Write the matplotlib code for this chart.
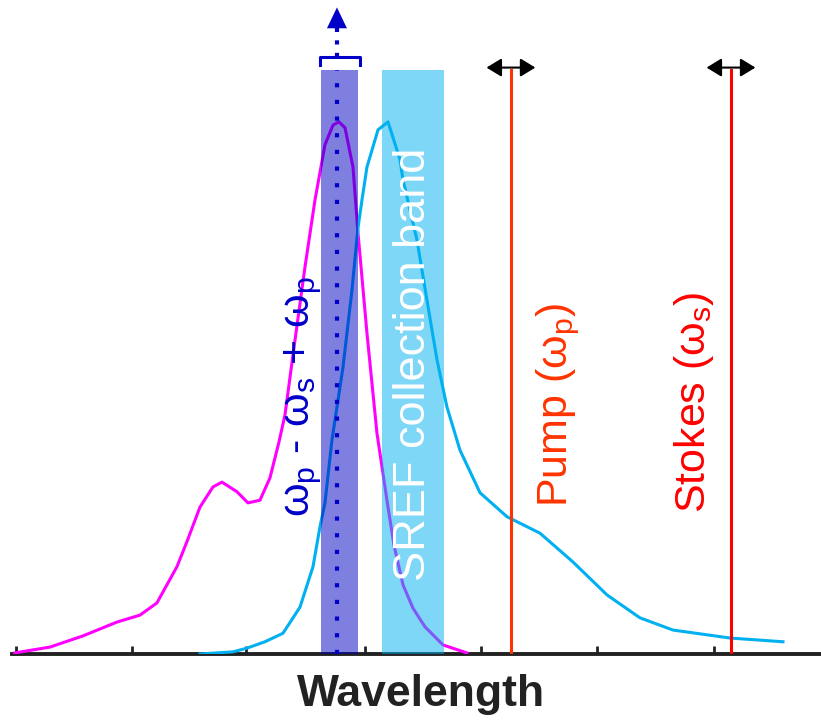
import matplotlib.pyplot as plt

plt.rcParams['font.family'] = ['Liberation Sans', 'DejaVu Sans']
plt.rcParams['mathtext.fontset'] = 'custom'
plt.rcParams['mathtext.rm'] = 'Liberation Sans'
plt.rcParams['mathtext.it'] = 'Liberation Sans'

# Data (arbitrary units, tick spacing = 1, intensity normalised to peak)
ticks = [0, 1, 1.98, 3, 4, 5, 6]

mag_x = [-0.01, 0.292, 0.576, 0.868, 1.066, 1.212, 1.384, 1.470, 1.582, 1.694,
         1.771, 1.900, 1.995, 2.098, 2.184, 2.261, 2.313, 2.382, 2.485, 2.571,
         2.657, 2.726, 2.777, 2.829, 2.898, 2.941, 3.018, 3.104, 3.190, 3.250,
         3.328, 3.414, 3.517, 3.672, 3.878]
mag_y = [0.002, 0.013, 0.034, 0.060, 0.073, 0.096, 0.164, 0.211, 0.276, 0.314,
         0.323, 0.305, 0.284, 0.289, 0.331, 0.398, 0.449, 0.562, 0.727, 0.853,
         0.957, 0.994, 1.0, 0.989, 0.915, 0.791, 0.603, 0.415, 0.289, 0.205,
         0.130, 0.086, 0.051, 0.017, 0.002]

cyan_x = [1.582, 1.866, 1.986, 2.141, 2.296, 2.442, 2.554, 2.614, 2.657, 2.717,
          2.812, 2.889, 2.941, 2.975, 3.018, 3.113, 3.199, 3.302, 3.328, 3.448,
          3.534, 3.620, 3.706, 3.818, 3.990, 4.222, 4.506, 4.789, 5.082, 5.365,
          5.649, 6.139, 6.595]
cyan_y = [0.0, 0.004, 0.011, 0.023, 0.039, 0.088, 0.164, 0.239, 0.284, 0.402,
          0.539, 0.684, 0.801, 0.853, 0.915, 0.985, 1.0, 0.929, 0.891, 0.778,
          0.665, 0.553, 0.464, 0.383, 0.303, 0.258, 0.227, 0.173, 0.111, 0.068,
          0.045, 0.030, 0.023]

target_band = [2.623, 2.941]      # omega_p - omega_s + omega_p region
sref_band = [3.147, 3.680]        # SREF collection band
target_x = 2.760
pump_x = 4.256
stokes_x = 6.148
band_top = 1.098

fig = plt.figure(figsize=(8.21, 7.21), dpi=100)
ax = fig.add_axes([12/821, 67/721, 809/821, 654/721])

# spectra
ax.plot(mag_x, mag_y, color='#ff00ff', lw=2.2, zorder=2)
ax.plot(cyan_x, cyan_y, color='#00b0f0', lw=2.2, zorder=2)

# bands (semi-transparent, drawn over the curves)
ax.fill_between(target_band, 0, band_top, color='#0000c0', alpha=0.5, lw=0, zorder=3)
ax.fill_between(sref_band, 0, band_top, color='#00b0f0', alpha=0.5, lw=0, zorder=3)

# dotted centre line, bracket and arrow
ax.plot([target_x, target_x], [0, band_top], color='#0000c8', lw=3,
        ls=(0, (1, 3)), zorder=4)
ax.plot([target_x, target_x], [1.122, 1.176], color='#0000c8', lw=3,
        ls=(0, (1, 2)), zorder=4)
ax.plot([2.614, 2.614, 2.958, 2.958], [1.106, 1.122, 1.122, 1.106],
        color='#0000c8', lw=2.2, zorder=4)
ax.annotate('', xy=(target_x, 1.215), xytext=(target_x, 1.178),
            arrowprops=dict(arrowstyle='-|>,head_length=0.75,head_width=0.36',
                            mutation_scale=20, color='#0000c8', lw=0,
                            shrinkA=0, shrinkB=0), zorder=4)

# pump and stokes lines
ax.plot([pump_x, pump_x], [0, band_top], color='#ff3300', lw=2.2, zorder=2)
ax.plot([stokes_x, stokes_x], [0, band_top], color='#ff0000', lw=2.2, zorder=2)
for xc in [pump_x, stokes_x]:
    ax.annotate('', xy=(xc - 0.21, 1.102), xytext=(xc + 0.21, 1.102),
                arrowprops=dict(arrowstyle='<|-|>,head_length=0.9,head_width=0.55',
                                mutation_scale=10, color='black', lw=1.5,
                                shrinkA=0, shrinkB=0), zorder=4)

# labels
ax.text(2.47, (654 - 517)/532, r'ω$_\mathrm{p}$ - ω$_\mathrm{s}$ + ω$_\mathrm{p}$',
        rotation=90, ha='center', va='bottom', color='#0000c8', fontsize=31, zorder=5)
ax.text(3.42, (654 - 581)/532, 'SREF collection band', rotation=90,
        ha='center', va='bottom', color='white', fontsize=32.5, zorder=5)
ax.text(4.66, (654 - 507)/532, r'Pump (ω$_\mathrm{p}$)', rotation=90,
        ha='center', va='bottom', color='#ff3300', fontsize=31, zorder=5)
ax.text(5.83, (654 - 513)/532, r'Stokes (ω$_\mathrm{s}$)', rotation=90,
        ha='center', va='bottom', color='#ff0000', fontsize=31, zorder=5)

ax.set_xlim(-0.034, 6.922)
ax.set_ylim(0, 1.229)
for s in ['left', 'top', 'right']:
    ax.spines[s].set_visible(False)
ax.spines['bottom'].set_linewidth(2.8)
ax.spines['bottom'].set_color('#222222')
ax.spines['bottom'].set_zorder(1)
ax.set_xticks(ticks)
ax.set_xticklabels([])
ax.set_yticks([])
ax.tick_params(axis='x', direction='in', length=6, width=2, color='#222222')
ax.set_xlabel('Wavelength', fontsize=32, fontweight='bold', color='#222222')
ax.xaxis.set_label_coords(0.506, -0.031)

fig.savefig('out.png', dpi=100)
